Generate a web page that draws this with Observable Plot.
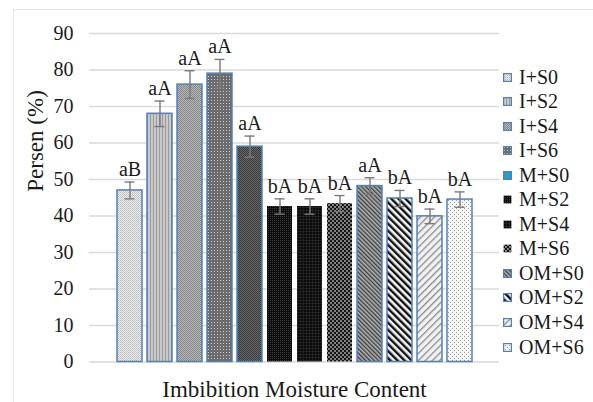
<!DOCTYPE html>
<html>
<head>
<meta charset="utf-8">
<script src="https://cdn.jsdelivr.net/npm/d3@7"></script>
<script src="https://cdn.jsdelivr.net/npm/@observablehq/plot@0.6"></script>
<style>
  html, body { margin: 0; padding: 0; background: #fff; }
  #wrap { position: relative; width: 593px; height: 402px; overflow: hidden; font-family: "Liberation Serif", "Times New Roman", Times, serif; }
  #frame { position: absolute; left: 13px; top: 9px; width: 600px; height: 420px; border-left: 1px solid #e6e6e6; border-top: 1px solid #e6e6e6; }
  #legend { position: absolute; left: 503px; top: 0; }
  .item { position: absolute; left: 0; height: 24px; display: flex; align-items: center; white-space: nowrap; font-family: "Liberation Serif", "Times New Roman", Times, serif; font-size: 20px; color: #1a1a1a; }
  .item svg { margin-right: 7px; }
  svg text { font-family: "Liberation Serif", "Times New Roman", Times, serif; }
</style>
</head>
<body>
<div id="wrap"><div id="frame"></div><div id="chart"></div><div id="legend"></div></div>
<script>
const categories = ["I+S0","I+S2","I+S4","I+S6","M+S0","M+S2","M+S4","M+S6","OM+S0","OM+S2","OM+S4","OM+S6"];
const values = [47, 68, 76, 79, 59, 42.6, 42.6, 43.4, 48.2, 44.8, 39.9, 44.5];
const errors = [2.3, 3.5, 3.8, 3.9, 2.9, 2.1, 2.1, 2.2, 2.3, 2.2, 2.0, 2.1];
const letters = ["aB","aA","aA","aA","aA","bA","bA","bA","aA","bA","bA","bA"];
const yTicks = [0, 10, 20, 30, 40, 50, 60, 70, 80, 90];
const yLabel = "Persen (%)";
const xLabel = "Imbibition Moisture Content";

const serif = "Liberation Serif, Times New Roman, Times, serif";
const patternIds = categories.map((c, i) => "p" + i);
const fills = patternIds.map(id => `url(#${id})`);
const bordered = [true, true, true, true, true, false, false, false, true, true, true, true];
const legendFills = fills.map((f, i) => i === 4 ? "#2e9cc6" : f);

const data = categories.map((c, i) => ({cat: c, v: values[i], e: errors[i], lab: letters[i], b: bordered[i]}));

const blue = "#4f81bd";
const errColor = "#7a7a7a";

const chart = Plot.plot({
  width: 593,
  height: 402,
  marginLeft: 89,
  marginRight: 94,
  marginTop: 33,
  marginBottom: 40.5,
  style: {fontFamily: serif, fontSize: "20px", color: "#1a1a1a", background: "transparent", overflow: "visible"},
  x: {domain: categories, axis: null, paddingInner: 0.18, paddingOuter: 0.86},
  y: {domain: [0, 90]},
  color: {domain: categories, range: fills},
  marks: [
    Plot.ruleY(yTicks, {stroke: "#d9d9d9", strokeWidth: 1.3}),
    Plot.axisY(yTicks, {tickSize: 0, tickPadding: 16, fontSize: 20, fontFamily: serif, label: null}),
    Plot.barY(data.filter(d => d.b), {x: "cat", y: "v", fill: "cat", stroke: blue, strokeWidth: 1.5}),
    Plot.barY(data.filter(d => !d.b), {x: "cat", y: "v", fill: "cat"}),
    Plot.ruleX(data, {x: "cat", y1: d => d.v - d.e, y2: d => d.v + d.e, stroke: errColor, strokeWidth: 1.4}),
    Plot.tickY(data, {x: "cat", y: d => d.v + d.e, insetLeft: 7.5, insetRight: 7.5, stroke: errColor, strokeWidth: 1.4}),
    Plot.tickY(data, {x: "cat", y: d => d.v - d.e, insetLeft: 7.5, insetRight: 7.5, stroke: errColor, strokeWidth: 1.4}),
    Plot.text(data, {x: "cat", y: d => d.v + d.e, text: "lab", dy: -6, lineAnchor: "bottom", fontSize: 20, fontFamily: serif, fill: "#1a1a1a"}),
    Plot.text([yLabel], {frameAnchor: "left", dx: -54, dy: -6, rotate: -90, fontSize: 23, fontFamily: serif, lineAnchor: "middle", fill: "#1a1a1a"}),
    Plot.text([xLabel], {frameAnchor: "bottom", dy: 28, fontSize: 23, fontFamily: serif, lineAnchor: "middle", fill: "#1a1a1a"})
  ]
});

const defs = `
<defs>
 <pattern id="p0" width="2" height="2" patternUnits="userSpaceOnUse">
  <rect width="2" height="2" fill="#ececec"/><rect width="1" height="1" fill="#bdbdbd"/><rect x="1" y="1" width="1" height="1" fill="#c8c8c8"/>
 </pattern>
 <pattern id="p1" width="3" height="3" patternUnits="userSpaceOnUse">
  <rect width="3" height="3" fill="#c9c9c9"/><rect width="1" height="3" fill="#9c9c9c"/>
 </pattern>
 <pattern id="p2" width="2" height="2" patternUnits="userSpaceOnUse">
  <rect width="2" height="2" fill="#b9b9b9"/><rect width="1" height="1" fill="#858585"/><rect x="1" y="1" width="1" height="1" fill="#858585"/>
 </pattern>
 <pattern id="p3" width="3" height="3" patternUnits="userSpaceOnUse">
  <rect width="3" height="3" fill="#6c6c6c"/><rect x="1" y="1" width="1" height="1" fill="#cfcfcf"/>
 </pattern>
 <pattern id="p4" width="2" height="2" patternUnits="userSpaceOnUse">
  <rect width="2" height="2" fill="#6a6a6a"/><rect width="1" height="1" fill="#383838"/><rect x="1" y="1" width="1" height="1" fill="#383838"/>
 </pattern>
 <pattern id="p5" width="2" height="2" patternUnits="userSpaceOnUse">
  <rect width="2" height="2" fill="#0c0c0c"/><rect width="1" height="1" fill="#3a3a3a"/>
 </pattern>
 <pattern id="p6" width="3" height="3" patternUnits="userSpaceOnUse">
  <rect width="3" height="3" fill="#0a0a0a"/><rect width="3" height="0.6" fill="#2c2c2c"/><rect width="0.6" height="3" fill="#2c2c2c"/>
 </pattern>
 <pattern id="p7" width="4" height="4" patternUnits="userSpaceOnUse">
  <rect width="4" height="4" fill="#141414"/><circle cx="1" cy="1" r="0.9" fill="#b5b5b5"/><circle cx="3" cy="3" r="0.9" fill="#b5b5b5"/>
 </pattern>
 <pattern id="p8" width="3" height="3" patternUnits="userSpaceOnUse" patternTransform="rotate(-45)">
  <rect width="3" height="3" fill="#b0b0b0"/><rect width="1.3" height="3" fill="#3c3c3c"/>
 </pattern>
 <pattern id="p9" width="5" height="5" patternUnits="userSpaceOnUse" patternTransform="rotate(-45)">
  <rect width="5" height="5" fill="#f4f4f4"/><rect width="2.4" height="5" fill="#111"/>
 </pattern>
 <pattern id="p10" width="5" height="5" patternUnits="userSpaceOnUse" patternTransform="rotate(45)">
  <rect width="5" height="5" fill="#f2f2f2"/><rect width="1.3" height="5" fill="#8a8a8a"/>
 </pattern>
 <pattern id="p11" width="4" height="4" patternUnits="userSpaceOnUse">
  <rect width="4" height="4" fill="#f6f6f6"/><rect width="1" height="1" fill="#9a9a9a"/><rect x="2" y="2" width="1" height="1" fill="#9a9a9a"/>
 </pattern>
</defs>`;
chart.insertAdjacentHTML("afterbegin", defs);
document.getElementById("chart").appendChild(chart);

const legend = document.getElementById("legend");
categories.forEach((c, i) => {
  const item = document.createElement("div");
  item.className = "item";
  item.style.top = (77 + i * 24.55 - 12) + "px";
  const stroke = bordered[i] ? blue : "none";
  item.innerHTML = `<svg width="9" height="9"><rect x="0.6" y="0.6" width="7.8" height="7.8" fill="${legendFills[i]}" stroke="${stroke}" stroke-width="1.2"/></svg><span>${c}</span>`;
  legend.appendChild(item);
});
</script>
</body>
</html>
